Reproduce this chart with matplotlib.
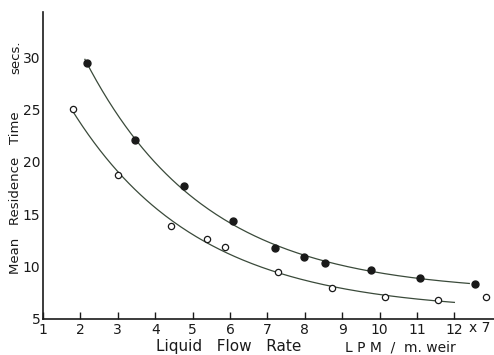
import numpy as np
import matplotlib
matplotlib.use('Agg')
import matplotlib.pyplot as plt

# filled points (upper series)
x_filled = [2.18, 3.46, 4.77, 6.08, 7.2, 7.98, 8.54, 9.77, 11.08, 12.55]
y_filled = [29.4, 22.1, 17.7, 14.4, 11.8, 10.9, 10.3, 9.7, 8.9, 8.3]
# open points (lower series)
x_open = [1.8, 3.0, 4.42, 5.39, 5.87, 7.28, 8.73, 10.15, 11.57, 12.85]
y_open = [25.0, 18.7, 13.9, 12.6, 11.9, 9.5, 8.0, 7.1, 6.8, 7.1]

xticks = [1, 2, 3, 4, 5, 6, 7, 8, 9, 10, 11, 12]
yticks = [5, 10, 15, 20, 25, 30]

plt.rcParams['font.family'] = 'DejaVu Sans'
fig = plt.figure(figsize=(4.94, 3.55), dpi=100)
ax = fig.add_axes([43/494, 36/355, 451/494, 307/355])

ink = '#1a1a1a'
line_c = '#3a4a3a'


def trend(xs, ys, x0, x1, n_fit):
    # y = a + b*exp(-c x) fitted to the measured points (grid over a)
    xs = np.array(xs[:n_fit])
    ys = np.array(ys[:n_fit])
    best = None
    for a in np.linspace(0, ys.min() - 0.1, 200):
        c = np.polyfit(xs, np.log(ys - a), 1)
        err = np.sum((a + np.exp(np.polyval(c, xs)) - ys) ** 2)
        if best is None or err < best[0]:
            best = (err, a, c)
    _, a, c = best
    xx = np.linspace(x0, x1, 200)
    return xx, a + np.exp(np.polyval(c, xx))


xx, yy = trend(x_filled, y_filled, 2.12, 12.4, 9)
ax.plot(xx, yy, color=line_c, lw=0.9)
xx, yy = trend(x_open, y_open, 1.75, 12.0, 9)
ax.plot(xx, yy, color=line_c, lw=0.9)

ax.plot(x_filled, y_filled, 'o', color=ink, ms=5, zorder=3)
ax.plot(x_open, y_open, 'o', mfc='white', mec=ink, mew=0.9, ms=4.5, zorder=3)

ax.set_xlim(1, 13.06)
ax.set_ylim(5, 34.3)
ax.set_xticks(xticks)
ax.set_yticks(yticks)
ax.spines['top'].set_visible(False)
ax.spines['right'].set_visible(False)
for s in ['left', 'bottom']:
    ax.spines[s].set_color(ink)
    ax.spines[s].set_linewidth(1.2)
ax.tick_params(axis='x', direction='in', length=5, width=1, colors=ink,
               labelsize=10, pad=3)
ax.tick_params(axis='y', length=0, colors=ink, labelsize=10, pad=2)

fig.text(0.972, 0.064, 'x 7', fontsize=10, color=ink, ha='center')
fig.text(0.462, 0.01, 'Liquid   Flow   Rate', fontsize=11, color=ink, ha='center')
fig.text(0.81, 0.01, 'L P M  /  m. weir', fontsize=10, color=ink, ha='center')
fig.text(0.032, 0.456, 'Mean   Residence   Time', fontsize=9.5, color=ink,
         rotation=90, ha='center', va='center')
fig.text(0.032, 0.84, 'secs.', fontsize=9.5, color=ink,
         rotation=90, ha='center', va='center')

fig.savefig('out.png', dpi=100)
